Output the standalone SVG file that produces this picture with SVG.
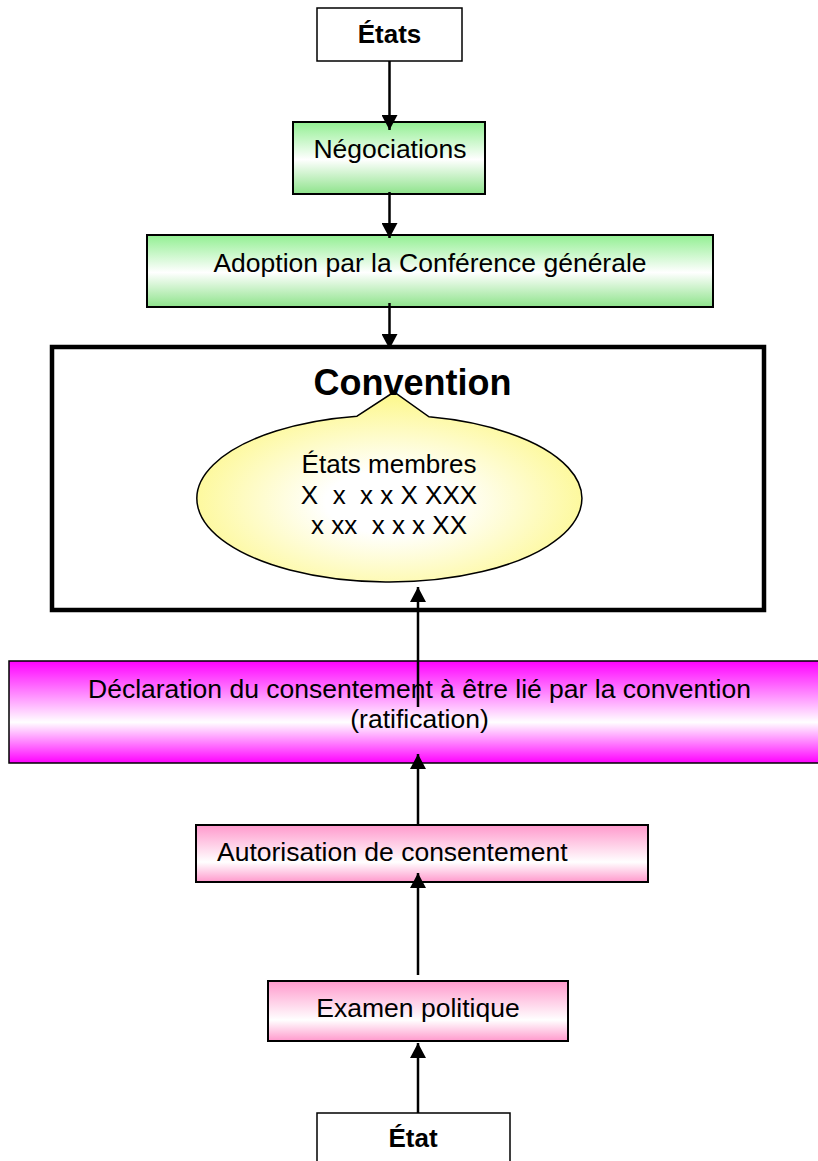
<svg xmlns="http://www.w3.org/2000/svg" width="818" height="1161" viewBox="0 0 818 1161">
<style>
text{font-family:"Liberation Sans",Arial,sans-serif;fill:#000}
.t{font-size:26.5px;text-anchor:middle}
.b{font-weight:bold;text-anchor:middle}
.plain{fill:#fff;stroke:#000;stroke-width:1.5}
.green{fill:url(#gGreen);stroke:#000;stroke-width:2}
.pink{fill:url(#gPink);stroke:#000;stroke-width:2}
.mag{fill:url(#gMag);stroke:#000;stroke-width:1.5}
.conn line{stroke:#000;stroke-width:2.5;marker-end:url(#arr)}
</style>
<defs>
<linearGradient id="gGreen" x1="0" y1="0" x2="0" y2="1">
<stop offset="0" stop-color="#92ef92"/><stop offset="0.52" stop-color="#ffffff"/><stop offset="1" stop-color="#8ee38b"/>
</linearGradient>
<linearGradient id="gPink" x1="0" y1="0" x2="0" y2="1">
<stop offset="0" stop-color="#ff99cc"/><stop offset="0.65" stop-color="#ffffff"/><stop offset="1" stop-color="#ff99cc"/>
</linearGradient>
<linearGradient id="gMag" x1="0" y1="0" x2="0" y2="1">
<stop offset="0" stop-color="#ff00ff"/><stop offset="0.6" stop-color="#ffffff"/><stop offset="1" stop-color="#ff00ff"/>
</linearGradient>
<radialGradient id="gYel" cx="0.5" cy="0.58" r="0.55">
<stop offset="0" stop-color="#ffffff"/><stop offset="0.3" stop-color="#ffffff"/><stop offset="1" stop-color="#fdf890"/>
</radialGradient>
<marker id="arr" markerUnits="userSpaceOnUse" markerWidth="16" markerHeight="16" viewBox="0 0 15 16" refX="15" refY="8" orient="auto">
<path d="M0,0 L15,8 L0,16 Z" fill="#000"/>
</marker>
</defs>

<g id="etats">
<rect class="plain" x="317" y="8" width="145" height="53"/>
<text class="b" x="389.5" y="43" font-size="26">États</text>
</g>

<g id="negociations">
<rect class="green" x="293" y="122" width="192" height="72"/>
<text class="t" x="390" y="158">Négociations</text>
</g>

<g id="adoption">
<rect class="green" x="147" y="235" width="566" height="72"/>
<text class="t" x="430" y="272">Adoption par la Conférence générale</text>
</g>

<g id="convention">
<rect x="52" y="347" width="712" height="263" fill="#fff" stroke="#000" stroke-width="4.5"/>
<g id="etats-membres">
<path d="M357,416.2 L394,392 L429,416.8 A192.5,83.5 0 1,1 357,416.2 Z" fill="url(#gYel)" stroke="#000" stroke-width="1.5"/>
<text class="t" x="389" y="473" style="font-size:26px">États membres</text>
<text class="t" x="389" y="504" style="font-size:26px">X&#160; x&#160; x x X XXX</text>
<text class="t" x="389" y="534" style="font-size:26px">x xx&#160; x x x XX</text>
</g>
<text class="b" x="412.5" y="395" font-size="36">Convention</text>
</g>

<g id="declaration">
<rect class="mag" x="9" y="661" width="820" height="102"/>
<text class="t" x="419.5" y="698">Déclaration du consentement à être lié par la convention</text>
<text class="t" x="419.5" y="728">(ratification)</text>
</g>

<g id="autorisation">
<rect class="pink" x="196" y="825" width="452" height="57"/>
<text x="217" y="861" font-size="26.5">Autorisation de consentement</text>
</g>

<g id="examen">
<rect class="pink" x="268" y="981" width="300" height="60"/>
<text class="t" x="418" y="1017">Examen politique</text>
</g>

<g id="etat">
<rect class="plain" x="317" y="1113" width="193" height="60"/>
<text class="b" x="413" y="1147" font-size="26">État</text>
</g>

<g id="connectors" class="conn">
<line x1="389.5" y1="61" x2="389.5" y2="130"/>
<line x1="389.5" y1="192" x2="389.5" y2="238"/>
<line x1="389.5" y1="303" x2="389.5" y2="349"/>
<line x1="418" y1="707" x2="418" y2="587"/>
<line x1="418" y1="825" x2="418" y2="754"/>
<line x1="418" y1="975" x2="418" y2="873"/>
<line x1="418" y1="1113" x2="418" y2="1043"/>
</g>
</svg>
